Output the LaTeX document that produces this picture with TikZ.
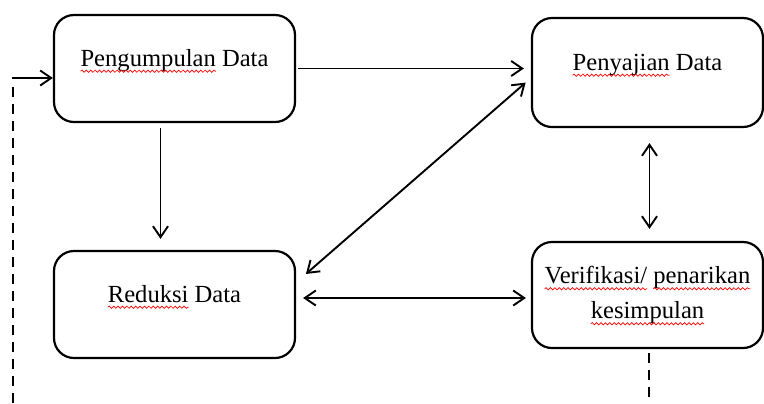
\documentclass[tikz,border=0pt]{standalone}
\usepackage{fontspec}
\setmainfont{Liberation Serif}
\usetikzlibrary{arrows.meta,decorations.pathmorphing}
% red wavy spell-check underline
\newcommand\spell[1]{\tikz[baseline=(w.base)]{%
    \node[rectangle,draw=none,fill=none,inner sep=0pt,outer sep=0pt,minimum width=0pt,
        minimum height=0pt,text height=,text depth=] (w) {#1};
    \draw[overlay,red,line width=0.35pt,rounded corners=0pt,decorate,
        decoration={snake,amplitude=0.55pt,segment length=2.2pt}]
        ([yshift=-2.6pt]w.base west) -- ([yshift=-2.6pt]w.base east);}}

\begin{document}
\begin{tikzpicture}[x=0.5pt,y=-0.5pt,
    box/.style={draw,line width=1.1pt,rounded corners=10pt,minimum height=53.5pt,
        align=center,font=\fontsize{12.3pt}{17.5pt}\selectfont},
    oneline/.style={text height=8pt,text depth=10.5pt},
    flow/.style={line width=0.95pt,-{Straight Barb[length=5.5pt,width=7.5pt]}},
    both/.style={line width=0.95pt,{Straight Barb[length=5.5pt,width=7.5pt]}-{Straight Barb[length=5.5pt,width=7.5pt]}},
    back/.style={line width=0.9pt,dash pattern=on 5pt off 3.5pt}]
    \useasboundingbox (0,0) rectangle (764,403);
    % Stages
    \node[box,oneline,minimum width=120.5pt] (kumpul) at (174.5,68.5) {\spell{Pengumpulan} Data};
    \node[box,oneline,minimum width=115.5pt,minimum height=54.5pt] (saji) at (647.5,72.5) {\spell{Penyajian} Data};
    \node[box,oneline,minimum width=120.5pt] (reduksi) at (174.5,304.5) {\spell{Reduksi} Data};
    \node[box,minimum width=115.5pt,minimum height=53pt] (verif) at (647.5,295) {\spell{Verifikasi/} \spell{penarikan}\\\spell{kesimpulan}};
    % Flow between stages
    \draw[flow,shorten <=1pt,shorten >=3.5pt] (kumpul.east) -- (kumpul.east -| saji.west);
    \draw[flow,shorten <=2.5pt,shorten >=5.5pt] ([xshift=-7pt]kumpul.south) -- ([xshift=-7pt]kumpul.south |- reduksi.north);
    \draw[both,shorten <=7.5pt,shorten >=6pt] ([xshift=1pt]saji.south) -- ([xshift=1pt]saji.south |- verif.north);
    \draw[both,shorten <=6.5pt,shorten >=3.5pt] ([yshift=11pt]reduksi.east) -- ([yshift=-2.75pt]saji.west);
    \draw[both,shorten <=3.5pt,shorten >=2.5pt] ([yshift=3.25pt]reduksi.east) coordinate (rk) -- (rk -| verif.west);
    % Feedback (dashed)
    \coordinate (fbtop) at (13,78);
    \coordinate (fbbot) at (13,403);
    \draw[back] (fbbot) -- ([yshift=-3pt]fbtop);
    \draw[flow,line cap=rect] (fbtop) -- (fbtop -| kumpul.west);
    \coordinate (vbot) at (649,403);
    \draw[back] ([xshift=0.75pt,yshift=-2pt]verif.south) -- (vbot);
\end{tikzpicture}
\end{document}
